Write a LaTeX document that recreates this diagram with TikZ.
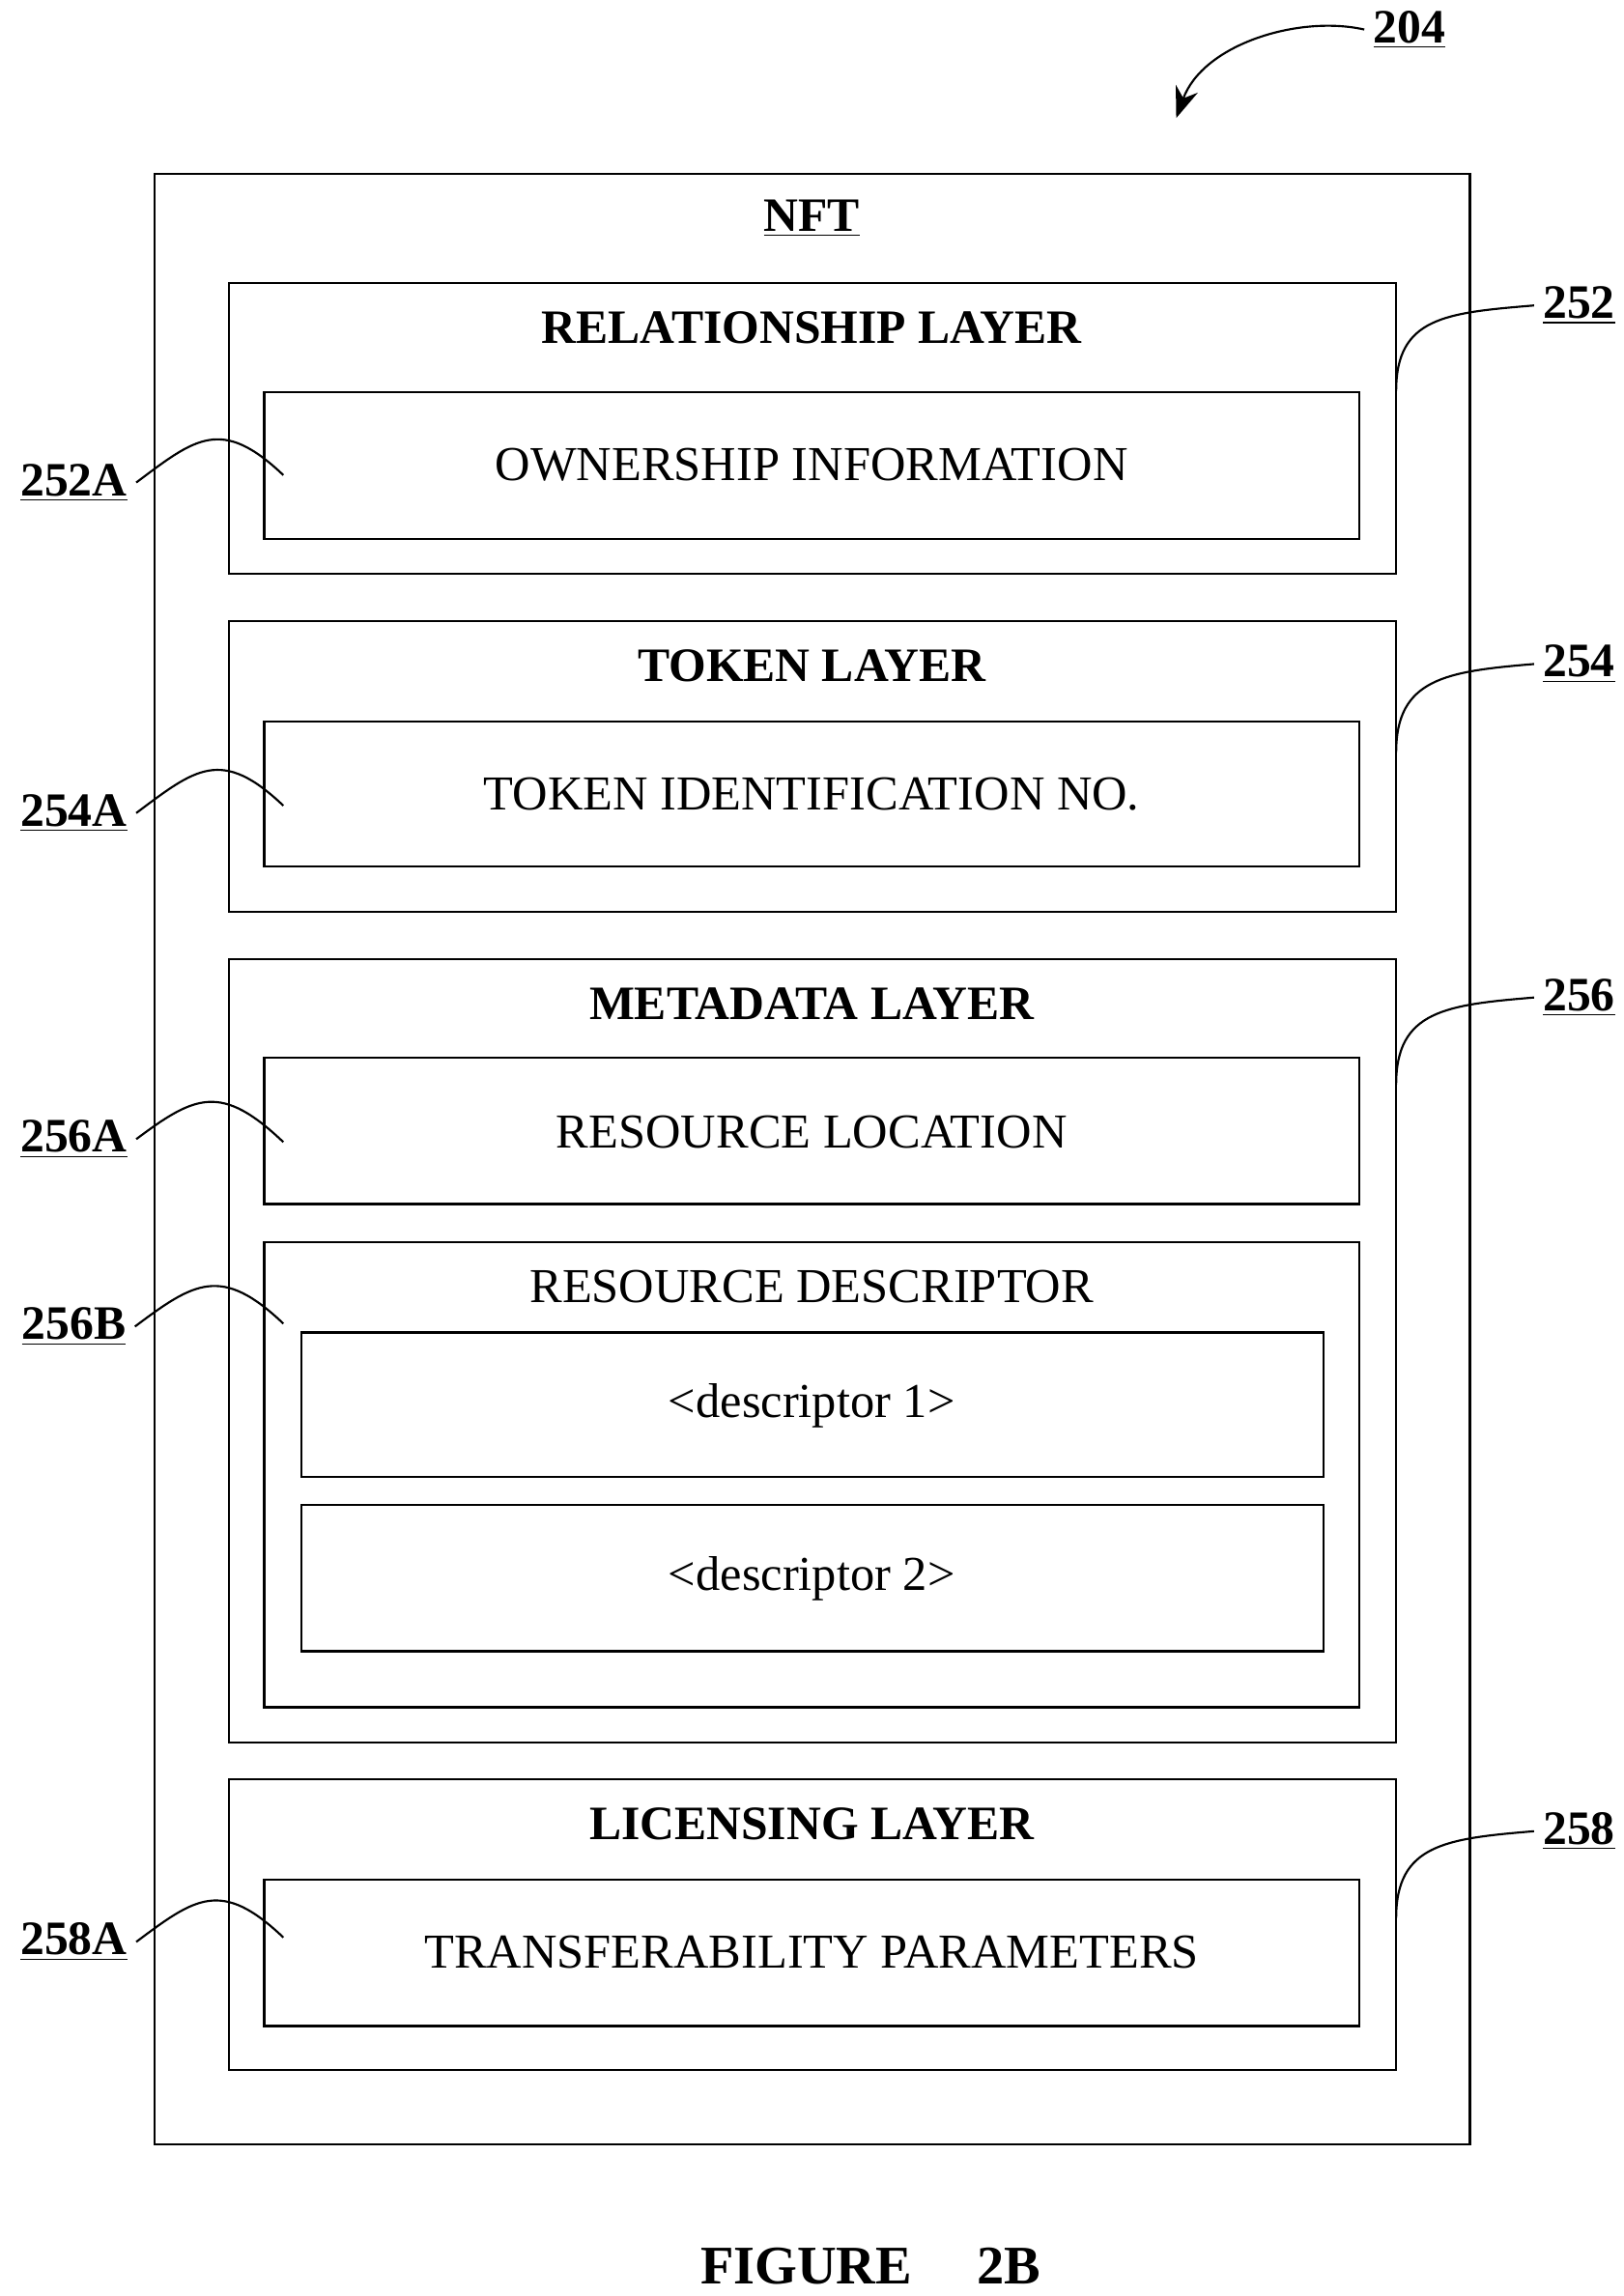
\documentclass[tikz,border=0pt]{standalone}
\usepackage{fontspec}
\setmainfont{Liberation Serif}
\usetikzlibrary{positioning}
\usetikzlibrary{arrows.meta}

\tikzset{
  box/.style={draw,line width=0.8pt,inner sep=0pt},
  ttl/.style={font=\fontsize{18.5}{22}\selectfont\bfseries},
  txt/.style={font=\fontsize{18.8}{22}\selectfont},
  ref/.style={font=\fontsize{18.5}{22}\selectfont\bfseries},
  lead/.style={line width=0.8pt}
}
\newcommand{\ul}[1]{\underline{#1}}

\begin{document}
\begin{tikzpicture}[x=0.02cm,y=-0.02cm]
\useasboundingbox (0,0) rectangle (1100,1556);

% outer box
\draw[box] (105,118) rectangle (996,1453);
\node[ttl](nft) at (550,148){\ul{NFT}};

% relationship layer
\draw[box] (155,192) rectangle (946,389);
\node[ttl](rel) at (550,222){RELATIONSHIP LAYER};
\draw[box] (179,266) rectangle (921,365);
\node[txt](own) at (550,315){OWNERSHIP INFORMATION};

% token layer
\draw[box] (155,421) rectangle (946,618);
\node[ttl](tok) at (550,451){TOKEN LAYER};
\draw[box] (179,489) rectangle (921,587);
\node[txt](tid) at (550,538){TOKEN IDENTIFICATION NO.};

% metadata layer
\draw[box] (155,650) rectangle (946,1181);
\node[ttl](meta) at (550,680){METADATA LAYER};
\draw[box] (179,717) rectangle (921,816);
\node[txt](rloc) at (550,767){RESOURCE LOCATION};
\draw[box] (179,842) rectangle (921,1157);
\node[txt](rdes) at (550,872){RESOURCE DESCRIPTOR};
\draw[box] (204,903) rectangle (897,1001);
\node[txt](d1) at (550,953){<descriptor 1>};
\draw[box] (204,1020) rectangle (897,1119);
\node[txt](d2) at (550,1070){<descriptor 2>};

% licensing layer
\draw[box] (155,1206) rectangle (946,1403);
\node[ttl](lic) at (550,1236){LICENSING LAYER};
\draw[box] (179,1274) rectangle (921,1373);
\node[txt](trp) at (550,1323){TRANSFERABILITY PARAMETERS};

% reference numerals
\node[ref](r204) at (955,20){\ul{204}};
\node[ref](r252) at (1070,207){\ul{252}};
\node[ref](r254) at (1070,450){\ul{254}};
\node[ref](r256) at (1070,676){\ul{256}};
\node[ref](r258) at (1070,1241){\ul{258}};
\node[ref](r252a) at (50,327){\ul{252A}};
\node[ref](r254a) at (50,551){\ul{254A}};
\node[ref](r256a) at (50,772){\ul{256A}};
\node[ref](r256b) at (50,899){\ul{256B}};
\node[ref](r258a) at (50,1316){\ul{258A}};

\coordinate (p204) at (797,80);
\draw[lead,-{Stealth[length=12pt,width=9pt]}] (r204.west) .. controls (880,10) and (815,30) .. (p204);

\foreach \r/\y in {r252/265,r254/510,r256/735,r258/1300}
  \draw[lead] (\r.west) .. controls +(-60,5) and (946,\y-50) .. (946,\y);
\foreach \r/\y in {r252a/322,r254a/546,r256a/774,r256b/897,r258a/1313}
  \draw[lead] (\r.east) .. controls +(40,-30) and (150,\y-40) .. (192,\y);

\node[ttl,font=\fontsize{21}{24}\selectfont\bfseries](fig) at (590,1536){FIGURE\hspace{1.2em}2B};
\end{tikzpicture}
\end{document}
